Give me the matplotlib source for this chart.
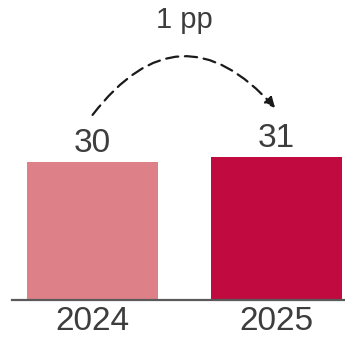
import matplotlib.pyplot as plt

plt.rcParams['font.family'] = ['Liberation Sans', 'DejaVu Sans']

# Values shown on the chart
years = ['2024', '2025']
shares = [30, 31]
change_label = '1 pp'
bar_colors = ['#DD8088', '#C00A40']
text_color = '#3d3d3d'

fig = plt.figure(figsize=(3.45, 3.38), dpi=100)
ax = fig.add_axes([12 / 345, 38 / 338, 1 - 12 / 345, 1 - 38 / 338])

x = list(range(len(years)))
ax.bar(x, shares, width=0.714, color=bar_colors, zorder=2)

ax.set_xlim(-0.439, 1.376)
ax.set_ylim(0, 65)

# Value labels above each bar
for xi, val in zip(x, shares):
    ax.annotate(str(val), (xi, val), xytext=(0, 2), textcoords='offset points',
                ha='center', va='bottom', fontsize=24, color=text_color)

# Dashed curved arrow between the two bars
ax.annotate('', xy=(0.995, 41.6), xytext=(0.0, 40.1),
            arrowprops=dict(arrowstyle='-|>', connectionstyle='arc3,rad=-0.6',
                            color='#1a1a1a', lw=1.6, linestyle=(0, (5.5, 3)),
                            mutation_scale=15, shrinkA=0, shrinkB=0))
ax.text(0.5, 59, change_label, ha='center', va='baseline', fontsize=21, color=text_color)

# Only the baseline remains
for side in ['top', 'right', 'left']:
    ax.spines[side].set_visible(False)
ax.spines['bottom'].set_color('#5a5a5a')
ax.spines['bottom'].set_linewidth(1.6)
ax.set_yticks([])
ax.set_xticks(x)
ax.set_xticklabels(years, fontsize=24, color=text_color)
ax.tick_params(axis='x', length=0, pad=4)

fig.savefig('out.png', dpi=100)
